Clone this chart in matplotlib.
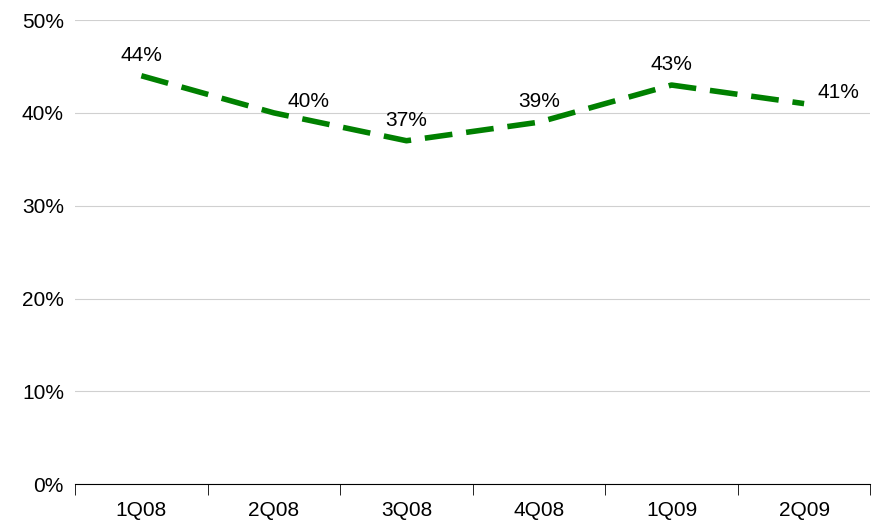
import numpy as np
import matplotlib.pyplot as plt

quarters = ['1Q08', '2Q08', '3Q08', '4Q08', '1Q09', '2Q09']
values = [44, 40, 37, 39, 43, 41]
label_pos = ['above', 'right', 'above', 'above', 'above', 'right']

plt.rcParams['font.family'] = ['Liberation Sans', 'DejaVu Sans']

fig = plt.figure(figsize=(8.73, 5.28), dpi=100)
ax = fig.add_axes([0.086, 0.083, 0.911, 0.879])

x = np.arange(len(quarters))
ax.plot(x, values, color='#008000', linewidth=4, linestyle=(0, (5, 2.5)),
        dash_capstyle='butt', zorder=3)

for xi, v, pos in zip(x, values, label_pos):
    if pos == 'above':
        ax.text(xi, v + 1.2, f'{v}%', ha='center', va='bottom', fontsize=15)
    else:
        ax.text(xi + 0.1, v + 1.2, f'{v}%', ha='left', va='center', fontsize=15)

ax.set_xlim(-0.5, len(quarters) - 0.5)
ax.set_ylim(0, 50)
ax.set_yticks(range(0, 51, 10))
ax.set_yticklabels([f'{t}%' for t in range(0, 51, 10)], fontsize=15)
ax.set_xticks(x)
ax.set_xticklabels(quarters, fontsize=15)
ax.set_xticks(np.arange(-0.5, len(quarters), 1), minor=True)
ax.tick_params(axis='x', which='major', length=0, pad=12)
ax.tick_params(axis='x', which='minor', length=8, direction='out', color='black')
ax.tick_params(axis='y', length=0, pad=8)

ax.grid(axis='y', color='#d0d0d0', linewidth=0.8)
ax.set_axisbelow(True)
for s in ['left', 'right', 'top']:
    ax.spines[s].set_visible(False)
ax.spines['bottom'].set_color('black')

fig.savefig('out.png', dpi=100)
